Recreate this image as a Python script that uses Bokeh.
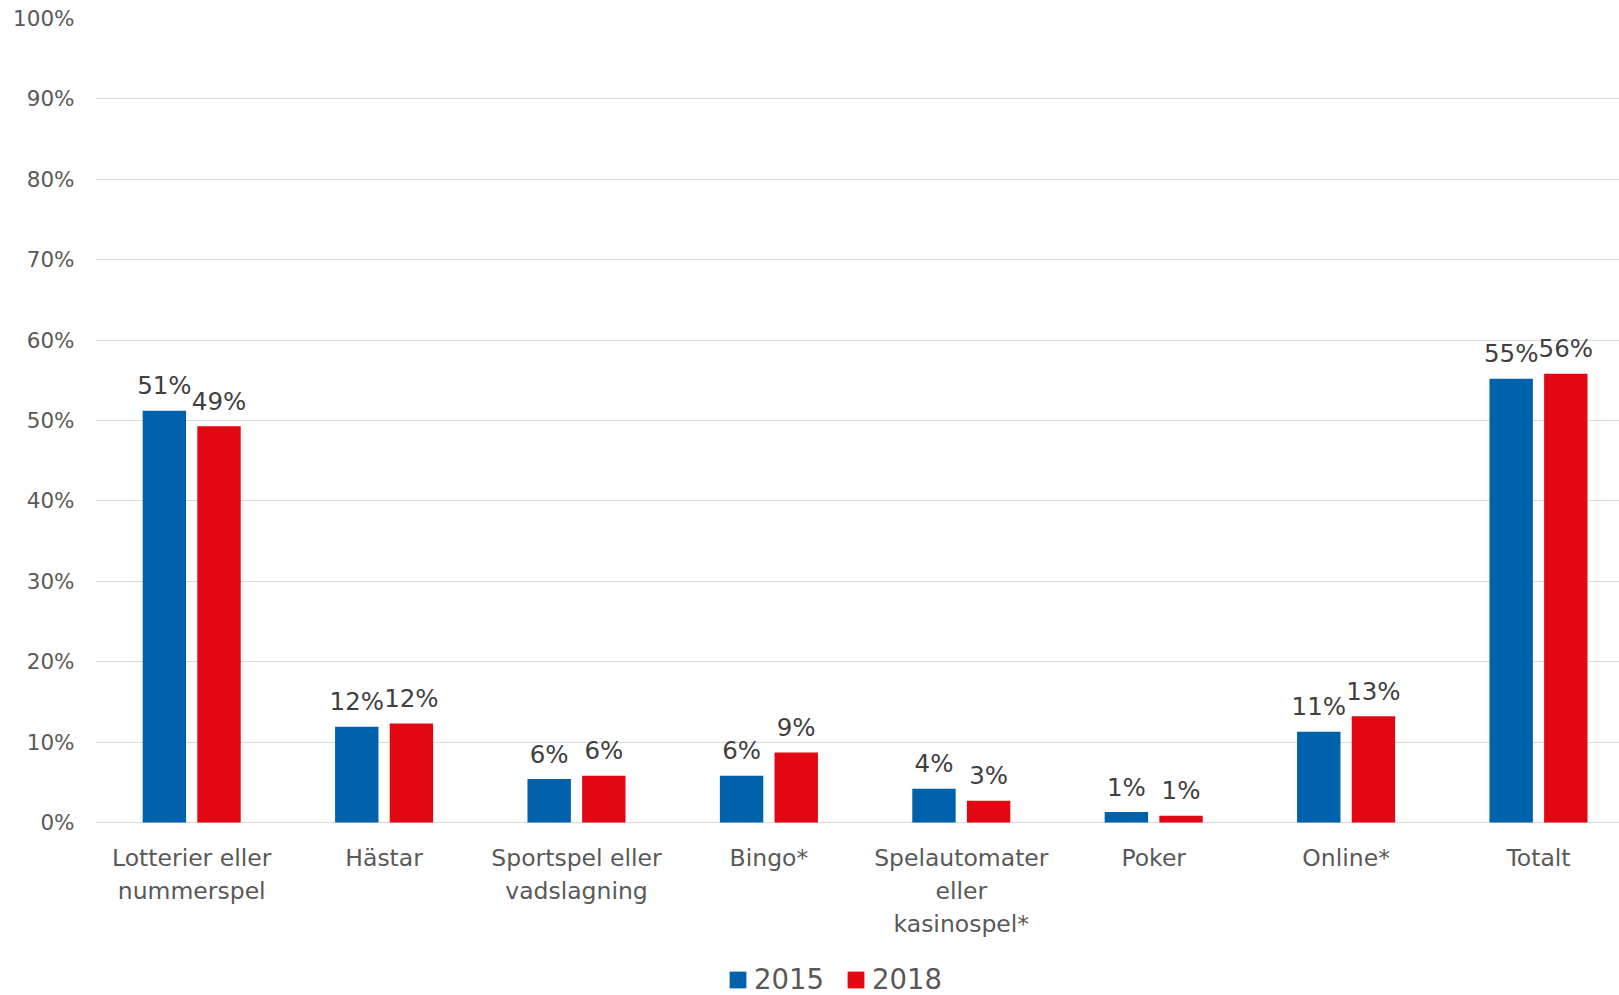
from bokeh.plotting import figure
from bokeh.models import Range1d, FixedTicker, ColumnDataSource, Legend, LegendItem
from bokeh.core.properties import value
from bokeh.embed import file_html
from bokeh.resources import INLINE

categories = ["Lotterier eller\nnummerspel", "Hästar", "Sportspel eller\nvadslagning", "Bingo*",
              "Spelautomater\neller\nkasinospel*", "Poker", "Online*", "Totalt"]
series_names = ["2015", "2018"]
values_2015 = [51.2, 11.9, 5.4, 5.8, 4.2, 1.3, 11.3, 55.2]
values_2018 = [49.3, 12.3, 5.8, 8.7, 2.7, 0.85, 13.2, 55.8]
labels_2015 = ["51%", "12%", "6%", "6%", "4%", "1%", "11%", "55%"]
labels_2018 = ["49%", "12%", "6%", "9%", "3%", "1%", "13%", "56%"]
y_ticks = [0, 10, 20, 30, 40, 50, 60, 70, 80, 90, 100]

BLUE = "#0062AC"
RED = "#E30613"
TEXT = "#595959"
LABEL_TEXT = "#404040"
GRID = "#D9D9D9"
FONT = "DejaVu Sans"

W, H = 1619, 995
LEFT, TOP = 95, 18
ZERO_Y = 822                      # pixel row of the 0% line
px_per_unit = (ZERO_Y - TOP) / 100.0
y_low = -(H - ZERO_Y) / px_per_unit
cat_px = 192.4
x_end = -0.5 + (W - LEFT) / cat_px

p = figure(width=W, height=H, output_backend="svg", toolbar_location=None,
           x_range=Range1d(-0.5, x_end), y_range=Range1d(y_low, 100),
           x_axis_location=None,
           min_border_left=LEFT, min_border_right=0, min_border_top=TOP, min_border_bottom=0)
p.outline_line_color = None
p.background_fill_color = "white"

idx = list(range(len(categories)))
off = 0.142
bw = 0.2256
src1 = ColumnDataSource(dict(x=[i - off for i in idx], top=values_2015, lab=labels_2015))
src2 = ColumnDataSource(dict(x=[i + off for i in idx], top=values_2018, lab=labels_2018))

r1 = p.vbar(x="x", top="top", bottom=0, width=bw, source=src1, fill_color=BLUE, line_color=None)
r2 = p.vbar(x="x", top="top", bottom=0, width=bw, source=src2, fill_color=RED, line_color=None)

for src in (src1, src2):
    p.text(x="x", y="top", text="lab", source=src, text_align="center", text_baseline="alphabetic",
           y_offset=-25, text_font=value(FONT), text_font_size="24.5px", text_color=LABEL_TEXT)

# category labels (one text line per row, under the 0% line)
line_x, line_y, line_t, line_off = [], [], [], []
for i, c in zip(idx, categories):
    for k, part in enumerate(c.split("\n")):
        line_x.append(i)
        line_y.append(0)
        line_t.append(part)
        line_off.append(35 + 33 * k)
src_c = ColumnDataSource(dict(x=line_x, y=line_y, t=line_t, o=line_off))
p.text(x="x", y="y", text="t", y_offset="o", source=src_c, text_align="center",
       text_baseline="alphabetic", text_font=value(FONT), text_font_size="23.5px", text_color=TEXT)

# y axis
p.yaxis.ticker = FixedTicker(ticks=y_ticks)
p.yaxis.major_label_overrides = {t: f"{t}%" for t in y_ticks}
p.yaxis.axis_line_color = None
p.yaxis.major_tick_line_color = None
p.yaxis.minor_tick_line_color = None
p.yaxis.major_tick_out = 0
p.yaxis.major_tick_in = 0
p.yaxis.major_label_standoff = 21
p.yaxis.major_label_text_font = FONT
p.yaxis.major_label_text_font_size = "21.5px"
p.yaxis.major_label_text_color = TEXT

p.ygrid.ticker = FixedTicker(ticks=y_ticks)
p.ygrid.grid_line_color = GRID
p.ygrid.grid_line_width = 1
p.xgrid.grid_line_color = None

legend = Legend(items=[LegendItem(label=series_names[0], renderers=[r1]),
                       LegendItem(label=series_names[1], renderers=[r2])],
                orientation="horizontal", location=(632, 0),
                padding=0, margin=0, spacing=21, label_standoff=6,
                glyph_width=21, glyph_height=21,
                label_text_font=FONT, label_text_font_size="27.5px", label_text_color=TEXT,
                border_line_color=None, background_fill_alpha=0)
p.add_layout(legend, "center")

open("out.html", "w").write(file_html(p, INLINE))
